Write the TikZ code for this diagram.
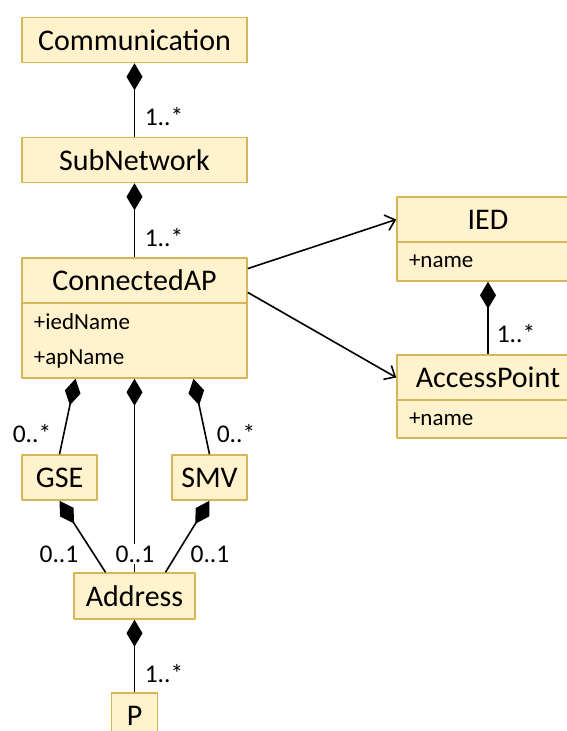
\documentclass[tikz,border=0pt]{standalone}
\usepackage{fontspec}
\setmainfont{Carlito}
\usetikzlibrary{arrows.meta,calc,positioning}
\definecolor{umlfill}{HTML}{FFF2CC}
\definecolor{umlline}{HTML}{D6B656}
\begin{document}
\begin{tikzpicture}[x=1pt,y=-1pt,line join=round,
	cls/.style={draw=umlline,fill=umlfill,line width=1.5pt,inner sep=0pt,minimum height=45pt,font=\fontsize{30}{34}\selectfont},
	attr/.style={draw=umlline,fill=umlfill,line width=1.5pt,inner xsep=12pt,inner ysep=0pt,align=left,font=\fontsize{23}{35}\selectfont},
	comp/.style={line width=1.6pt,{Diamond[length=27pt,width=16pt]}-},
	assoc/.style={line width=1.6pt,-{Straight Barb[length=9pt,width=16pt]}},
	mult/.style={fill=white,inner sep=2pt,font=\fontsize{25.5}{28}\selectfont}]
	\useasboundingbox (0,0) rectangle (567,731);
	% classes
	\node[cls,minimum width=225pt] (comm) at (134.5,40) {Communication};
	\node[cls,minimum width=225pt] (subnet) at (134.5,160) {SubNetwork};
	\node[cls,minimum width=225pt] (cap) at (134.5,280.5) {ConnectedAP};
	\node[attr,minimum width=225pt,minimum height=75pt,text width=201pt] (capattr) at (134.5,340.5) {+iedName\\+apName};
	\node[cls,minimum width=182pt] (ied) at (488,219.5) {IED};
	\node[attr,minimum width=182pt,minimum height=39pt,text width=158pt] (iedattr) at (488,261.5) {+name};
	\node[cls,minimum width=182pt] (ap) at (488,377.5) {AccessPoint};
	\node[attr,minimum width=182pt,minimum height=38pt,text width=158pt] (apattr) at (488,419) {+name};
	\node[cls,minimum width=75pt] (gse) at (59.5,477.5) {GSE};
	\node[cls,minimum width=75pt] (smv) at (209.5,477.5) {SMV};
	\node[cls,minimum width=121pt,minimum height=46pt] (addr) at (134.5,596) {Address};
	\node[cls,minimum width=46pt,minimum height=46pt] (p) at (134.5,716) {P};
	% connectors
	\draw[comp] (comm) -- (subnet);
	\draw[comp] (subnet) -- (cap);
	\draw[assoc] (cap.6) -- (ied.west);
	\draw[assoc] (cap.-6) -- (ap.west);
	\draw[comp] (iedattr) -- (ap);
	\draw[comp] ($(capattr.south)+(-59,0)$) -- (gse.north);
	\draw[comp] ($(capattr.south)+(59,0)$) -- (smv.north);
	\draw[comp] (capattr.south) -- (addr.north);
	\draw[comp] (gse.south) -- ($(addr.north)+(-29,0)$);
	\draw[comp] (smv.south) -- ($(addr.north)+(31,0)$);
	\draw[comp] (addr) -- (p.north);
	% multiplicities
	\node[mult] (m1) at (164,117) {1..*};
	\node[mult] (m2) at (164,238) {1..*};
	\node[mult] (m3) at (516,334) {1..*};
	\node[mult] (m4) at (32,434) {0..*};
	\node[mult] (m5) at (236,434) {0..*};
	\node[mult] (m6) at (59,554) {0..1};
	\node[mult] (m7) at (135,554) {0..1};
	\node[mult] (m8) at (210,554) {0..1};
	\node[mult] (m9) at (164,674) {1..*};
\end{tikzpicture}
\end{document}
